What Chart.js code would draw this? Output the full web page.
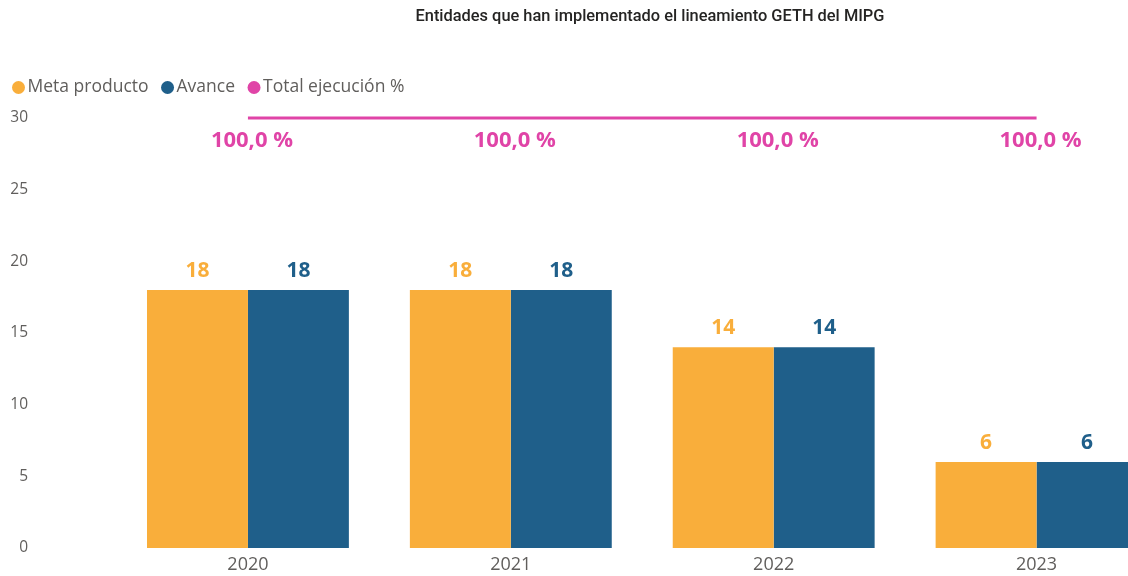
<!DOCTYPE html>
<html>
<head>
<meta charset="utf-8">
<script src="https://cdn.jsdelivr.net/npm/chart.js@4.4.0/dist/chart.umd.min.js"></script>
<style>
    html, body { margin: 0; padding: 0; overflow: hidden; background: #ffffff; }
    #wrap { position: relative; width: 1168px; height: 576px; }
    #chart { display: block; }
    #title {
        position: absolute; left: 0; top: 6px; width: 1300px; z-index: 2;
        text-align: center; font: 500 16.4px Roboto, sans-serif; color: #252423;
    }
</style>
</head>
<body>
<div id="title">Entidades que han implementado el lineamiento GETH del MIPG</div>
<div id="wrap"><canvas id="chart" width="1168" height="576"></canvas></div>
<script>
const years = ["2020", "2021", "2022", "2023"];
const metaProducto = [18, 18, 14, 6];
const avance = [18, 18, 14, 6];
const totalEjecucion = [100, 100, 100, 100];

const ORANGE = "#F9AE3B";
const BLUE = "#1F5F8A";
const PINK = "#E044A7";
const GREY = "#605E5C";
const FONT = "'Open Sans', 'Noto Sans', sans-serif";

// value labels above the bars and under the line
const valueLabels = {
    id: "valueLabels",
    afterDatasetsDraw(chart) {
        const ctx = chart.ctx;
        ctx.save();
        ctx.textAlign = "center";
        ctx.textBaseline = "alphabetic";
        chart.data.datasets.forEach((ds, i) => {
            const meta = chart.getDatasetMeta(i);
            meta.data.forEach((el, j) => {
                const v = ds.data[j];
                if (ds.type === "line") {
                    ctx.font = "bold 22px " + FONT;
                    ctx.fillStyle = PINK;
                    ctx.fillText(v.toFixed(1).replace(".", ",") + " %", el.x + 4, el.y + 28.5);
                } else {
                    ctx.font = "bold 21px " + FONT;
                    ctx.fillStyle = ds.backgroundColor;
                    ctx.fillText(String(v), el.x, el.y - 13);
                }
            });
        });
        ctx.restore();
    },
};

// legend drawn by hand so it sits exactly where the original one is
const topLegend = {
    id: "topLegend",
    afterDraw(chart) {
        const ctx = chart.ctx;
        ctx.save();
        ctx.font = "17.5px " + FONT;
        ctx.textBaseline = "middle";
        ctx.textAlign = "left";
        let x = 18.5;
        const y = 87.5;
        chart.data.datasets.forEach((ds) => {
            ctx.fillStyle = ds.type === "line" ? ds.borderColor : ds.backgroundColor;
            ctx.beginPath();
            ctx.arc(x, y, 6.5, 0, Math.PI * 2);
            ctx.fill();
            ctx.fillStyle = GREY;
            ctx.fillText(ds.label, x + 9, y);
            x += 9 + ctx.measureText(ds.label).width + 19;
        });
        ctx.restore();
    },
};

new Chart(document.getElementById("chart").getContext("2d"), {
    type: "bar",
    data: {
        labels: years,
        datasets: [
            {
                label: "Meta producto",
                data: metaProducto,
                backgroundColor: ORANGE,
                barPercentage: 1,
                categoryPercentage: 0.768,
            },
            {
                label: "Avance",
                data: avance,
                backgroundColor: BLUE,
                barPercentage: 1,
                categoryPercentage: 0.768,
            },
            {
                type: "line",
                label: "Total ejecución %",
                data: totalEjecucion,
                yAxisID: "y1",
                borderColor: PINK,
                backgroundColor: PINK,
                borderWidth: 3,
                pointRadius: 0,
                clip: false,
            },
        ],
    },
    plugins: [valueLabels, topLegend],
    options: {
        responsive: false,
        animation: false,
        layout: { padding: { top: 118, right: 0, bottom: 0, left: 0 } },
        plugins: {
            legend: { display: false },
            title: { display: false },
            tooltip: { enabled: false },
        },
        scales: {
            x: {
                grid: { display: false, drawTicks: false },
                border: { display: false },
                ticks: { color: GREY, font: { family: FONT, size: 18 }, padding: 6 },
                afterFit: (s) => { s.height = 28; },
            },
            y: {
                min: 0,
                max: 30,
                grid: { display: false, drawTicks: false },
                border: { display: false },
                ticks: { stepSize: 5, color: GREY, font: { family: FONT, size: 15.5 }, padding: 88.5 },
                afterFit: (s) => {
                    // the big tick padding only pushes labels left, not the plot down
                    s.width = 116.5;
                    s.paddingTop = 10;
                    s.paddingBottom = 10;
                },
            },
            y1: {
                display: false,
                min: 0,
                max: 100,
            },
        },
    },
});
</script>
</body>
</html>
